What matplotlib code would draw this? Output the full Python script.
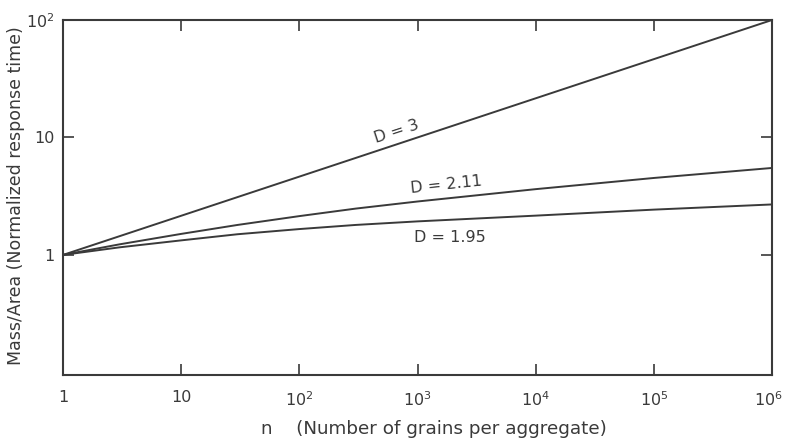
import numpy as np
import matplotlib
matplotlib.use("Agg")
import matplotlib.pyplot as plt
import matplotlib.transforms as mtransforms

# Data
n_d3 = [1, 1e6]
y_d3 = [1.0, 100.0]

n_curves = [1, 3, 10, 30, 100, 300, 1e3, 1e4, 1e5, 1e6]
y_d211 = [1.0, 1.23, 1.51, 1.80, 2.14, 2.48, 2.85, 3.63, 4.52, 5.5]
y_d195 = [1.0, 1.16, 1.33, 1.50, 1.66, 1.80, 1.93, 2.16, 2.43, 2.69]

x_ticks = [1, 10, 1e2, 1e3, 1e4, 1e5, 1e6]
x_ticklabels = ["1", "10", r"$\mathregular{10^2}$", r"$\mathregular{10^3}$",
                r"$\mathregular{10^4}$", r"$\mathregular{10^5}$", r"$\mathregular{10^6}$"]
y_ticks = [1, 10, 100]
y_ticklabels = ["1", "10", r"$\mathregular{10^2}$"]

labels = ["D = 3", "D = 2.11", "D = 1.95"]
label_pos = [(660, 11.3), (1750, 3.96), (1870, 1.40)]
label_rot = [18, 6, 0]

ink = "#3a3a3a"
plt.rcParams['font.family'] = ['DejaVu Sans']

fig = plt.figure(figsize=(7.85, 4.44), dpi=100)
ax = fig.add_axes([63/785, 69/444, (772-63)/785, (375-20)/444])
ax.set_xscale('log')
ax.set_yscale('log')
ax.set_xlim(1, 1e6)
ax.set_ylim(0.095, 100)

lw = 1.4
ax.plot(n_d3, y_d3, color=ink, lw=lw)
ax.plot(n_curves, y_d211, color=ink, lw=lw)
ax.plot(n_curves, y_d195, color=ink, lw=lw)

for t, (x, y), r in zip(labels, label_pos, label_rot):
    ax.text(x, y, t, ha='center', va='center', rotation=r, rotation_mode='anchor',
            fontsize=11.5, color=ink)

ax.set_xticks(x_ticks)
ax.set_xticklabels(x_ticklabels)
ax.set_yticks(y_ticks)
ax.set_yticklabels(y_ticklabels)
ax.minorticks_off()
ax.tick_params(axis='both', which='major', direction='in', length=8, width=1.2,
               colors=ink, labelsize=11.5, top=True, right=True)
ax.tick_params(axis='x', pad=11)
ax.tick_params(axis='y', pad=6)
for s in ax.spines.values():
    s.set_linewidth(1.5)
    s.set_color(ink)

# nudge the last x tick label so it stays inside the figure
last = ax.get_xticklabels()[-1]
last.set_transform(last.get_transform() + mtransforms.ScaledTranslation(-4/100, 0, fig.dpi_scale_trans))

ax.set_xlabel("n    (Number of grains per aggregate)", fontsize=13.2, color=ink)
ax.set_ylabel("Mass/Area (Normalized response time)", fontsize=12.5, color=ink)
ax.xaxis.set_label_coords(0.523, -0.128)
ax.yaxis.set_label_coords(-0.054, 0.504)

fig.savefig("out.png", dpi=100)
